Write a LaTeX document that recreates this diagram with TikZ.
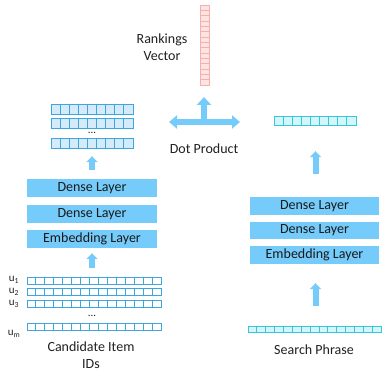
\documentclass[tikz,border=0pt]{standalone}
\usepackage{fontspec}
\setmainfont{Carlito}
\usetikzlibrary{arrows.meta}

\definecolor{layerblue}{HTML}{75CCFB}
\definecolor{cellblueA}{HTML}{D5EBFA}
\definecolor{cellblueB}{HTML}{3DA5E0}
\definecolor{cellcyanA}{HTML}{D2F6FA}
\definecolor{cellcyanB}{HTML}{38C6D8}
\definecolor{cellredA}{HTML}{FDE3E2}
\definecolor{cellredB}{HTML}{F8AEAC}
\definecolor{txt}{HTML}{202020}

\tikzset{
  layer/.style={fill=layerblue, minimum width=130pt, minimum height=18pt,
    inner sep=0pt, font=\fontsize{14}{14}\selectfont, text=black!90},
  blockarrow/.style={draw=layerblue, line width=6pt,
    -{Triangle[width=11pt,length=6pt]}},
  crossarrow/.style={draw=layerblue, line width=6pt},
  caption/.style={font=\fontsize{14}{17}\selectfont, text=txt, align=center},
  ulabel/.style={font=\fontsize{11}{11}\selectfont, text=txt, inner sep=0pt},
  dots/.style={font=\fontsize{11}{11}\selectfont, text=txt, inner sep=0pt},
  bluecell/.style={fill=cellblueA, draw=cellblueB, line width=0.9pt},
  cyancell/.style={fill=cellcyanA, draw=cellcyanB, line width=0.8pt},
  redcell/.style={fill=cellredA, draw=cellredB, line width=0.7pt},
  whitecell/.style={fill=white, draw=cellblueB, line width=0.9pt},
}

% horizontal row of cells: name, x0, y0, x1, y1, cells, cell style
\newcommand\cellrow[7]{%
  \foreach \i in {1,...,#6}
    \draw[#7] ({#2+(\i-1)*(#4-#2)/#6},#3) rectangle ({#2+\i*(#4-#2)/#6},#5);
  \node[inner sep=0pt, minimum width={(#4-#2)*1pt}, minimum height={(#5-#3)*1pt}]
    (#1) at ({(#2+#4)/2},{(#3+#5)/2}) {};
}
% vertical column of cells: name, x0, y0, x1, y1, cells, cell style
\newcommand\cellcol[7]{%
  \foreach \i in {1,...,#6}
    \draw[#7] (#2,{#3+(\i-1)*(#5-#3)/#6}) rectangle (#4,{#3+\i*(#5-#3)/#6});
  \node[inner sep=0pt, minimum width={(#4-#2)*1pt}, minimum height={(#5-#3)*1pt}]
    (#1) at ({(#2+#4)/2},{(#3+#5)/2}) {};
}

\begin{document}
\begin{tikzpicture}[x=1pt, y=-1pt]
  \useasboundingbox (0,0) rectangle (385,371);

  % ranking scores
  \cellcol{rank}{200}{5}{209}{85}{15}{redcell}
  \node[caption] (ranklbl) at (162,47) {Rankings\\Vector};

  % item embeddings
  \cellrow{vecL1}{51}{104}{133}{114}{9}{bluecell}
  \cellrow{vecL2}{51}{118}{133}{128}{9}{bluecell}
  \node[dots] (dotsL) at (92,133) {...};
  \cellrow{vecL3}{51}{138}{133}{148}{9}{bluecell}

  % query embedding
  \cellrow{vecR}{274}{116}{356}{125}{9}{cyancell}

  % dot product symbol
  \coordinate (dp) at (204,122);
  \draw[crossarrow, {Triangle[width=13pt,length=8pt]}-{Triangle[width=13pt,length=8pt]}]
    ([xshift=-35pt]dp) -- ([xshift=36pt]dp);
  \draw[crossarrow, -{Triangle[width=14pt,length=8pt]}]
    ([yshift=3pt]dp) -- ([yshift=25pt]dp);
  \node[caption] (dplbl) at (204,149) {Dot Product};

  % item tower
  \node[layer] (denseL1) at (92,188) {Dense Layer};
  \node[layer] (denseL2) at (92,214) {Dense Layer};
  \node[layer] (embL) at (92,239) {Embedding Layer};

  % query tower
  \node[layer, minimum width=129pt] (denseR1) at (314.5,206) {Dense Layer};
  \node[layer, minimum width=129pt, minimum height=17pt] (denseR2) at (314.5,230.5) {Dense Layer};
  \node[layer, minimum width=129pt] (embR) at (314.5,255) {Embedding Layer};

  % candidate item ids
  \cellrow{cand1}{27}{277}{161}{284}{15}{whitecell}
  \cellrow{cand2}{27}{288}{161}{295}{15}{whitecell}
  \cellrow{cand3}{27}{300}{161}{307}{15}{whitecell}
  \node[dots] (dotsC) at (92,316) {...};
  \cellrow{candm}{27}{323}{161}{330}{15}{whitecell}
  \node[ulabel] (u1) at (14,280) {u\textsubscript{1}};
  \node[ulabel] (u2) at (14,292) {u\textsubscript{2}};
  \node[ulabel] (u3) at (14,304) {u\textsubscript{3}};
  \node[ulabel] (um) at (14,334) {u\textsubscript{m}};
  \node[caption] (candlbl) at (91,355) {Candidate Item\\IDs};

  % search phrase tokens
  \cellrow{search}{248}{326}{381}{332}{15}{cyancell}
  \node[caption] (searchlbl) at (314,350) {Search Phrase};

  % flow arrows
  \draw[blockarrow, shorten <=9pt, shorten >=8pt] (denseL1.north) -- (vecL3.south);
  \draw[blockarrow, shorten <=9pt, shorten >=5pt] (cand1.north -| embL) -- (embL.south);
  \draw[blockarrow, shorten <=23pt, shorten >=26pt] ([xshift=1pt]denseR1.north) -- ([xshift=1pt]denseR1.north |- vecR.south);
  \draw[blockarrow, shorten <=20pt, shorten >=19pt] ([xshift=1pt]embR.south |- search.north) -- ([xshift=1pt]embR.south);
\end{tikzpicture}
\end{document}
